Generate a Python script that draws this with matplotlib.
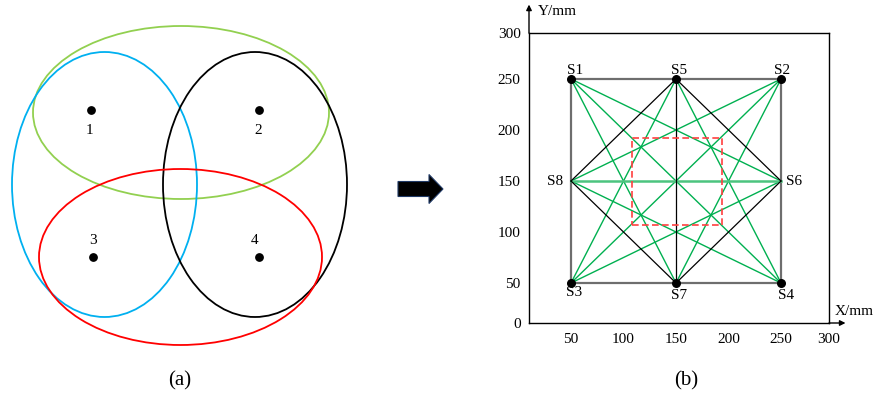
import matplotlib.pyplot as plt
from matplotlib.patches import Ellipse, FancyArrow, Rectangle
import numpy as np

plt.rcParams['font.family'] = ['Liberation Serif', 'DejaVu Serif']

# (a) - four points and the grouping ellipses (drawing units = pixels of the panel)
pts_a_x = [91, 259, 93, 259]
pts_a_y = [110, 110, 257, 257]
pts_a_lbl = ["1", "2", "3", "4"]
lbl_a_x = [89, 258, 93, 255]
lbl_a_y = [131, 131, 241, 241]

ell_cx = [181, 104.5, 255, 180.5]
ell_cy = [112.5, 184.5, 184.5, 257]
ell_w = [296, 185, 184, 283]
ell_h = [173, 265, 265, 176]
ell_col = ["#92d050", "#00b0f0", "black", "red"]

# (b) - sensor layout in mm
sensors = ["S1", "S2", "S3", "S4", "S5", "S6", "S7", "S8"]
sens_x = [50, 250, 50, 250, 150, 250, 150, 50]
sens_y = [250, 250, 50, 50, 250, 150, 50, 150]
has_dot = [True, True, True, True, True, False, True, False]

square_path = ["S1", "S2", "S4", "S3", "S1"]
black_links = [("S5", "S8"), ("S8", "S7"), ("S7", "S6"), ("S6", "S5"), ("S5", "S7")]
green_links = [("S1", "S6"), ("S1", "S7"), ("S1", "S4"), ("S2", "S8"), ("S2", "S7"),
               ("S2", "S3"), ("S3", "S5"), ("S3", "S6"), ("S4", "S5"), ("S4", "S8")]
mid_link = ("S8", "S6")
zone_x = [108, 194]
zone_y = [107, 192]

x_ticks = [50, 100, 150, 200, 250, 300]
y_ticks = [0, 50, 100, 150, 200, 250, 300]


def main():
    W, H = 873, 396
    fig = plt.figure(figsize=(W / 100, H / 100), dpi=100)

    # ---- panel (a) ----
    axa = fig.add_axes([0, 0, 370 / W, 1])
    axa.set_xlim(0, 370)
    axa.set_ylim(H, 0)
    axa.axis("off")
    for cx, cy, w, h, c in zip(ell_cx, ell_cy, ell_w, ell_h, ell_col):
        axa.add_patch(Ellipse((cx, cy), w, h, fill=False, edgecolor=c, lw=1.3))
    axa.scatter(pts_a_x, pts_a_y, s=28, c="black", zorder=3)
    for lx, ly, t in zip(lbl_a_x, lbl_a_y, pts_a_lbl):
        axa.text(lx, ly, t, ha="center", va="center", fontsize=11)
    axa.text(180, 381, "(a)", ha="center", va="center", fontsize=15)

    # ---- arrow between panels ----
    axm = fig.add_axes([370 / W, 0, 120 / W, 1])
    axm.set_xlim(370, 490)
    axm.set_ylim(H, 0)
    axm.axis("off")
    axm.add_patch(FancyArrow(398, 189, 45, 0, width=15, head_width=29, head_length=14,
                             length_includes_head=True, fc="black", ec="#1f3864", lw=0.8))

    # ---- panel (b) ----
    left, right, top, bottom = 529, 829, 33, 323
    ax = fig.add_axes([left / W, (H - bottom) / H, (right - left) / W, (bottom - top) / H])
    ax.set_xlim(10, 295.7)
    ax.set_ylim(10.8, 295.1)

    pos = {s: (x, y) for s, x, y in zip(sensors, sens_x, sens_y)}

    sq = np.array([pos[s] for s in square_path])
    ax.plot(sq[:, 0], sq[:, 1], color="#6e6e6e", lw=1.6, zorder=2)
    for a, b in green_links:
        ax.plot([pos[a][0], pos[b][0]], [pos[a][1], pos[b][1]], color="#00b050", lw=1.0, zorder=2)
    ax.plot([pos[mid_link[0]][0], pos[mid_link[1]][0]], [pos[mid_link[0]][1], pos[mid_link[1]][1]],
            color="#4cc47f", lw=1.8, zorder=2)
    for a, b in black_links:
        ax.plot([pos[a][0], pos[b][0]], [pos[a][1], pos[b][1]], color="black", lw=0.9, zorder=3)
    ax.add_patch(Rectangle((zone_x[0], zone_y[0]), zone_x[1] - zone_x[0], zone_y[1] - zone_y[0],
                           fill=False, edgecolor="#ff4040", ls=(0, (4, 2)), lw=1.2, zorder=4))

    dx = [x for x, d in zip(sens_x, has_dot) if d]
    dy = [y for y, d in zip(sens_y, has_dot) if d]
    ax.scatter(dx, dy, s=30, c="black", zorder=5)

    offsets = {"S1": (4, 9), "S5": (3, 9), "S2": (1, 9), "S8": (-8, 0), "S6": (10, 0),
               "S3": (3, -9), "S7": (3, -12), "S4": (5, -12)}
    for s in sensors:
        ox, oy = offsets[s]
        ha = "center"
        if s == "S8":
            ha = "right"
        elif s == "S6":
            ha = "left"
            ox = 5
        ax.annotate(s, pos[s], xytext=(ox * 0.72, oy * 0.72), textcoords="offset points",
                    ha=ha, va="center", fontsize=11)

    xl, yl = ax.get_xlim(), ax.get_ylim()
    ax.set_xticks(np.clip(x_ticks, *xl))
    ax.set_xticklabels([str(v) for v in x_ticks])
    ax.set_yticks(np.clip(y_ticks, *yl))
    ax.set_yticklabels([str(v) for v in y_ticks])
    ax.tick_params(length=0, labelsize=11)
    ax.tick_params(axis="x", pad=7)
    ax.tick_params(axis="y", pad=6)
    for sp in ax.spines.values():
        sp.set_linewidth(1.0)

    ax.annotate("", xy=(1.055, 0), xytext=(1.0, 0), xycoords="axes fraction",
                arrowprops=dict(arrowstyle="-|>", lw=1.0, color="black", mutation_scale=8,
                                shrinkA=0, shrinkB=0), annotation_clip=False)
    ax.annotate("", xy=(0, 1.098), xytext=(0, 1.0), xycoords="axes fraction",
                arrowprops=dict(arrowstyle="-|>", lw=1.0, color="black", mutation_scale=8,
                                shrinkA=0, shrinkB=0), annotation_clip=False)
    ax.text(0.03, 1.075, "Y/mm", transform=ax.transAxes, ha="left", va="center", fontsize=11)
    ax.text(1.02, 0.04, "X/mm", transform=ax.transAxes, ha="left", va="center", fontsize=11)

    fig.text(686 / W, 1 - 381 / H, "(b)", ha="center", va="center", fontsize=15)

    fig.savefig("out.png", dpi=100)


if __name__ == "__main__":
    main()
